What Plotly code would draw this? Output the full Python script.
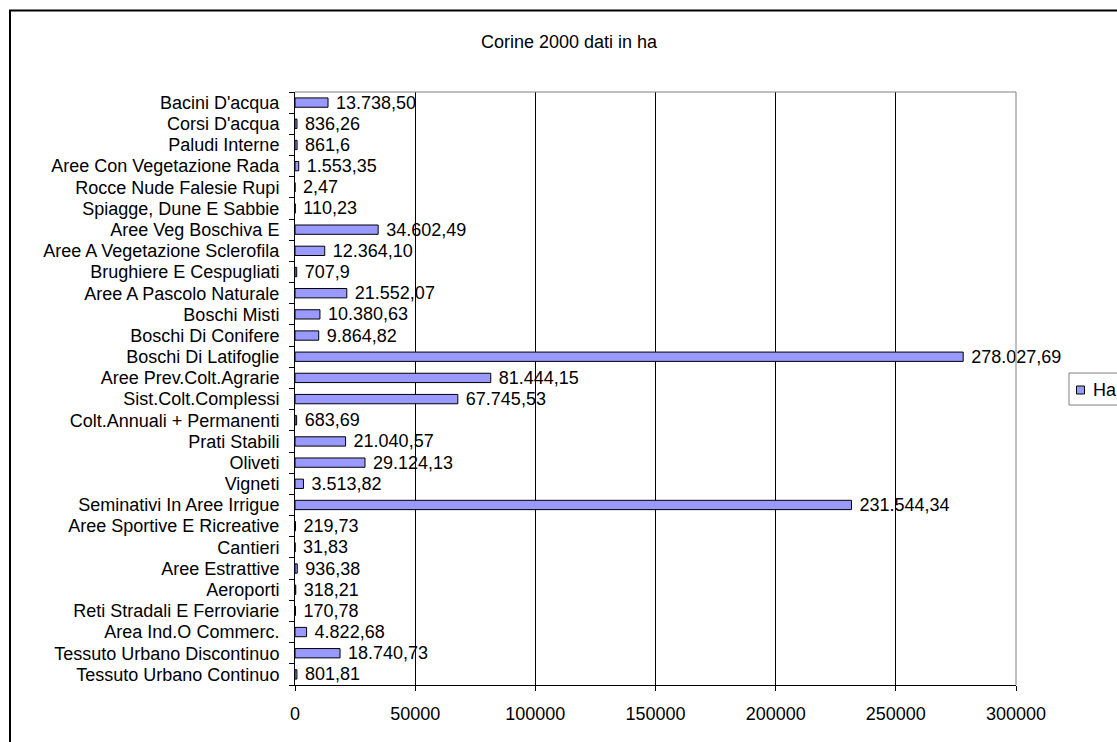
import plotly.graph_objects as go

categories = [
    "Tessuto Urbano Continuo", "Tessuto Urbano Discontinuo", "Area Ind.O Commerc.",
    "Reti Stradali E Ferroviarie", "Aeroporti", "Aree Estrattive", "Cantieri",
    "Aree Sportive E Ricreative", "Seminativi In Aree Irrigue", "Vigneti", "Oliveti",
    "Prati Stabili", "Colt.Annuali + Permanenti", "Sist.Colt.Complessi",
    "Aree Prev.Colt.Agrarie", "Boschi Di Latifoglie", "Boschi Di Conifere",
    "Boschi Misti", "Aree A Pascolo Naturale", "Brughiere E Cespugliati",
    "Aree A Vegetazione Sclerofila", "Aree Veg Boschiva E", "Spiagge, Dune E Sabbie",
    "Rocce Nude Falesie Rupi", "Aree Con Vegetazione Rada", "Paludi Interne",
    "Corsi D'acqua", "Bacini D'acqua",
]
values_ha = [
    801.81, 18740.73, 4822.68, 170.78, 318.21, 936.38, 31.83, 219.73, 231544.34,
    3513.82, 29124.13, 21040.57, 683.69, 67745.53, 81444.15, 278027.69, 9864.82,
    10380.63, 21552.07, 707.9, 12364.10, 34602.49, 110.23, 2.47, 1553.35, 861.6,
    836.26, 13738.50,
]
value_labels = [
    "801,81", "18.740,73", "4.822,68", "170,78", "318,21", "936,38", "31,83", "219,73",
    "231.544,34", "3.513,82", "29.124,13", "21.040,57", "683,69", "67.745,53",
    "81.444,15", "278.027,69", "9.864,82", "10.380,63", "21.552,07", "707,9",
    "12.364,10", "34.602,49", "110,23", "2,47", "1.553,35", "861,6", "836,26",
    "13.738,50",
]
x_ticks = [0, 50000, 100000, 150000, 200000, 250000, 300000]
x_tick_labels = ["0", "50000", "100000", "150000", "200000", "250000", "300000"]
series_name = "Ha"
title_text = "Corine 2000 dati in ha"

W, H = 1117, 742
L, R, T, B = 295, 1016, 92, 685
FONT = "Liberation Sans, Arial, sans-serif"
FS = 18
BAR_COLOR = "#9999FF"

def px_x(p):
    return (p - L) / (R - L)

def px_y(p):
    return (B - p) / (B - T)

fig = go.Figure()
fig.add_trace(go.Bar(
    y=categories, x=values_ha, orientation="h", name=series_name,
    marker=dict(color=BAR_COLOR, line=dict(color="black", width=1)),
    text=value_labels, texttemplate=" %{text}", textposition="outside",
    constraintext="none", cliponaxis=False,
    textfont=dict(family=FONT, size=FS, color="black"),
    hoverinfo="x+y", showlegend=False,
))

fig.update_layout(
    width=W, height=H,
    margin=dict(l=L, r=W - R, t=T, b=H - B, autoexpand=False),
    paper_bgcolor="white", plot_bgcolor="white",
    font=dict(family=FONT, size=FS, color="black"),
    bargap=0.56,
    title=dict(text=title_text, x=569 / W, xref="container", xanchor="center",
               y=1 - 42 / H, yref="container", yanchor="middle",
               font=dict(family=FONT, size=FS, color="black")),
    xaxis=dict(range=[0, 300000], tickvals=x_ticks, ticktext=x_tick_labels,
               showgrid=True, gridcolor="black", gridwidth=1, zeroline=False,
               showline=True, linecolor="black", linewidth=1,
               ticks="outside", ticklen=5, tickcolor="black",
               ticklabelstandoff=7,
               tickfont=dict(family=FONT, size=FS, color="black"), fixedrange=True),
    yaxis=dict(type="category", categoryorder="array", categoryarray=categories,
               tickmode="linear", tick0=0, dtick=1,
               showgrid=False, zeroline=False, showline=True, linecolor="black",
               linewidth=1, ticks="outside", ticklen=5, tickcolor="black",
               tickson="boundaries", ticklabelstandoff=11,
               tickfont=dict(family=FONT, size=FS, color="black"), fixedrange=True),
)

shapes = [
    # outer chart frame
    dict(type="rect", xref="paper", yref="paper",
         x0=px_x(10), x1=px_x(W + 5), y0=px_y(H + 5), y1=px_y(10.5),
         line=dict(color="black", width=2), fillcolor="rgba(0,0,0,0)", layer="below"),
    # plot area top and right border (gray)
    dict(type="line", xref="paper", yref="paper", x0=0, x1=1, y0=1, y1=1,
         line=dict(color="#808080", width=1), layer="above"),
    dict(type="line", xref="paper", yref="paper", x0=1, x1=1, y0=0, y1=1,
         line=dict(color="#808080", width=1), layer="above"),
    # legend box
    dict(type="rect", xref="paper", yref="paper",
         x0=px_x(1069), x1=px_x(W + 5), y0=px_y(405), y1=px_y(373),
         line=dict(color="#808080", width=1), fillcolor="white", layer="below"),
    # legend key
    dict(type="rect", xref="paper", yref="paper",
         x0=px_x(1076.5), x1=px_x(1084.5), y0=px_y(394), y1=px_y(386),
         line=dict(color="black", width=1), fillcolor=BAR_COLOR, layer="above"),
]
fig.update_layout(shapes=shapes)
fig.add_annotation(
    text=series_name, xref="paper", yref="paper", x=px_x(1091), y=px_y(389.5),
    xanchor="left", yanchor="middle", showarrow=False,
    font=dict(family=FONT, size=FS, color="black"),
)

fig.write_html("out.html", config={"displayModeBar": False},
               post_script="document.body.style.margin='0';document.body.style.padding='0';")
